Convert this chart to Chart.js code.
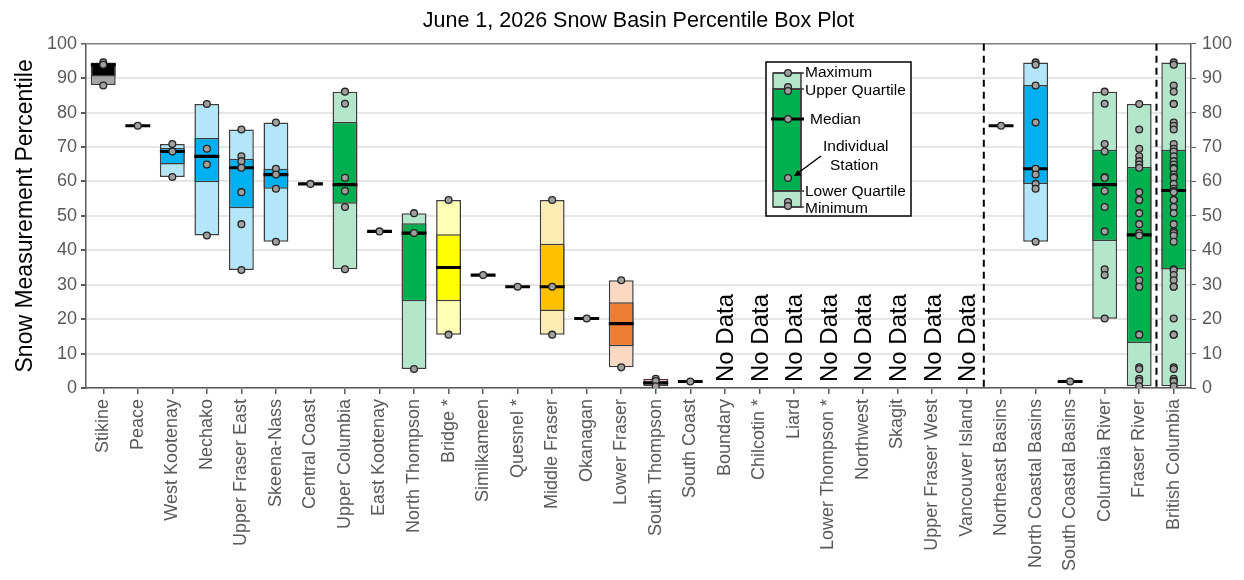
<!DOCTYPE html>
<html>
<head>
<meta charset="utf-8">
<script src="https://cdn.jsdelivr.net/npm/chart.js@4.4.1/dist/chart.umd.min.js"></script>
<style>
html, body { margin: 0; padding: 0; background: #fff; }
</style>
</head>
<body>
<canvas id="boxChart" width="1244" height="580"></canvas>
<script>
const basins = ['Stikine', 'Peace', 'West Kootenay', 'Nechako', 'Upper Fraser East', 'Skeena-Nass',
    'Central Coast', 'Upper Columbia', 'East Kootenay', 'North Thompson', 'Bridge *', 'Similkameen',
    'Quesnel *', 'Middle Fraser', 'Okanagan', 'Lower Fraser', 'South Thompson', 'South Coast',
    'Boundary', 'Chilcotin *', 'Liard', 'Lower Thompson *', 'Northwest', 'Skagit', 'Upper Fraser West',
    'Vancouver Island', 'Northeast Basins', 'North Coastal Basins', 'South Coastal Basins',
    'Columbia River', 'Fraser River', 'British Columbia'];

// box stats (null = single station or no data)
const mins    = [88.0, null, 61.3, 44.3, 34.3, 42.5, null, 34.5, null, 5.5, 15.5, null, null, 15.5, null, 6.0, 0.5, null,
                 null, null, null, null, null, null, null, null, null, 42.5, null, 20.1, 0.5, 0.5];
const q1s     = [90.5, null, 64.9, 59.8, 52.2, 57.9, null, 53.5, null, 25.2, 25.2, null, null, 22.4, null, 12.1, 1.0, null,
                 null, null, null, null, null, null, null, null, null, 59.3, null, 42.7, 13.1, 34.4];
const medians = [93.9, 76.2, 68.7, 67.3, 64.0, 62.0, 59.3, 59.1, 45.5, 45.0, 35.0, 32.8, 29.4, 29.4, 20.2, 18.7, 1.5, 1.9,
                 null, null, null, null, null, null, null, null, 76.2, 63.7, 1.9, 59.1, 44.5, 57.4];
const q3s     = [94.4, null, 69.7, 72.6, 66.6, 63.7, null, 77.3, null, 47.9, 44.7, null, null, 41.9, null, 24.9, 1.9, null,
                 null, null, null, null, null, null, null, null, null, 88.0, null, 69.2, 64.2, 69.2];
const maxs    = [94.6, null, 70.9, 82.5, 75.1, 77.1, null, 86.1, null, 50.8, 54.6, null, null, 54.6, null, 31.3, 2.7, null,
                 null, null, null, null, null, null, null, null, null, 94.6, null, 86.1, 82.5, 94.6];

const shades = ['black', null, 'blue', 'blue', 'blue', 'blue', null, 'green', null, 'green', 'yellow', null,
    null, 'amber', null, 'orange', 'red', null, null, null, null, null, null, null, null, null,
    null, 'blue', null, 'green', 'green', 'green'];

// individual stations
const stations = [
    [94.6, 93.9, 87.9],
    [76.2],
    [70.9, 68.7, 61.3],
    [82.5, 69.5, 64.9, 44.3],
    [75.1, 67.3, 65.9, 64.0, 56.9, 47.6, 34.3],
    [77.1, 63.7, 62.0, 57.9, 42.5],
    [59.3],
    [86.1, 82.6, 61.1, 57.2, 52.6, 34.5],
    [45.5],
    [50.8, 45.0, 5.5],
    [54.6, 15.5],
    [32.8],
    [29.4],
    [54.6, 29.4, 15.5],
    [20.2],
    [31.3, 6.0],
    [2.7, 2.0, 0.5],
    [1.9],
    [], [], [], [], [], [], [], [],
    [76.2],
    [94.6, 93.9, 87.9, 77.1, 63.7, 62.0, 59.3, 57.9, 42.5],
    [1.9],
    [86.1, 82.6, 70.9, 68.7, 61.3, 61.1, 57.2, 52.6, 45.5, 34.5, 32.8, 20.2],
    [82.5, 75.1, 69.5, 67.3, 65.9, 64.9, 64.0, 56.9, 54.6, 54.6, 50.8, 47.6, 45.0, 44.3, 34.3, 31.3,
     29.4, 29.4, 15.5, 15.5, 6.0, 5.5, 2.7, 2.0, 0.5],
    [94.6, 93.9, 87.9, 86.1, 82.6, 82.5, 77.1, 76.2, 75.1, 70.9, 69.5, 68.7, 67.3, 65.9, 64.9, 64.0,
     63.7, 62.0, 61.3, 61.1, 59.3, 57.9, 57.2, 56.9, 54.6, 54.6, 52.6, 50.8, 47.6, 45.5, 45.0, 44.3,
     42.5, 34.5, 34.3, 32.8, 31.3, 29.4, 29.4, 20.2, 15.5, 15.5, 6.0, 5.5, 2.7, 2.0, 1.9, 0.5]
];

const yTicks = [0, 10, 20, 30, 40, 50, 60, 70, 80, 90, 100];
const groupStarts = [26, 31];

const palette = {
    black:  ['#a6a6a6', '#000000'],
    blue:   ['#b4e6f9', '#00b0f0'],
    green:  ['#b3e6cb', '#00b050'],
    yellow: ['#ffffb4', '#ffff00'],
    amber:  ['#ffebb4', '#ffc000'],
    orange: ['#fad8c2', '#ed7d31'],
    red:    ['#f6b4b4', '#e00000']
};

Chart.defaults.font.family = "'Liberation Sans', Arial, sans-serif";
Chart.defaults.color = '#595959';

const outerData = basins.map((b, i) => mins[i] == null ? null : [mins[i], maxs[i]]);
const innerData = basins.map((b, i) => q1s[i] == null ? null : [q1s[i], q3s[i]]);
const medData = medians.map(m => m == null ? null : [m - 0.45, m + 0.45]);
const pointData = [];
stations.forEach((list, i) => {
    list.forEach(v => pointData.push({ x: basins[i], y: v }));
});

const boxStyle = {
    type: 'bar',
    grouped: false,
    barPercentage: 0.72,
    categoryPercentage: 1,
    borderColor: '#3c3c3c',
    borderWidth: 1.5,
    borderSkipped: false
};

// dashed separators, "No Data" labels and the key box
const extras = {
    id: 'extras',
    afterDatasetsDraw(chart) {
        const ctx = chart.ctx;
        const xs = chart.scales.x;
        const area = chart.chartArea;

        ctx.save();
        ctx.strokeStyle = '#000';
        ctx.lineWidth = 2;
        ctx.setLineDash([7, 5]);
        groupStarts.forEach(g => {
            const px = (xs.getPixelForValue(g - 1) + xs.getPixelForValue(g)) / 2;
            ctx.beginPath();
            ctx.moveTo(px, area.top);
            ctx.lineTo(px, area.bottom);
            ctx.stroke();
        });
        ctx.setLineDash([]);

        ctx.fillStyle = '#000';
        ctx.font = "24px 'Liberation Sans', Arial, sans-serif";
        ctx.textAlign = 'left';
        ctx.textBaseline = 'alphabetic';
        medians.forEach((m, i) => {
            if (m != null) return;
            const px = xs.getPixelForValue(i);
            ctx.save();
            ctx.translate(px + 8.5, area.bottom - 6);
            ctx.rotate(-Math.PI / 2);
            ctx.fillText('No Data', 0, 0);
            ctx.restore();
        });

        drawKey(ctx);
        ctx.restore();
    }
};

function dot(ctx, x, y) {
    ctx.beginPath();
    ctx.arc(x, y, 3.4, 0, Math.PI * 2);
    ctx.fillStyle = '#a0a0a0';
    ctx.fill();
    ctx.lineWidth = 1.3;
    ctx.strokeStyle = '#262626';
    ctx.stroke();
}

function drawKey(ctx) {
    ctx.fillStyle = '#fff';
    ctx.fillRect(766, 62, 145, 154);
    ctx.strokeStyle = '#000';
    ctx.lineWidth = 1.5;
    ctx.strokeRect(766, 62, 145, 154);

    ctx.fillStyle = '#b3e6cb';
    ctx.fillRect(773, 73, 28, 134);
    ctx.fillStyle = '#00b050';
    ctx.fillRect(773, 89, 28, 102);
    ctx.strokeStyle = '#3c3c3c';
    ctx.strokeRect(773, 73, 28, 134);
    ctx.strokeRect(773, 89, 28, 102);

    ctx.beginPath();
    [73, 89, 191, 207].forEach(y => { ctx.moveTo(773, y); ctx.lineTo(804, y); });
    ctx.stroke();

    ctx.lineWidth = 3;
    ctx.strokeStyle = '#000';
    ctx.beginPath();
    ctx.moveTo(771, 119);
    ctx.lineTo(804, 119);
    ctx.stroke();

    [73, 87, 91, 119, 178, 202, 206].forEach(y => dot(ctx, 788, y));

    // arrow
    ctx.strokeStyle = '#000';
    ctx.fillStyle = '#000';
    ctx.lineWidth = 1.5;
    ctx.beginPath();
    ctx.moveTo(821, 156);
    ctx.lineTo(798, 173);
    ctx.stroke();
    ctx.beginPath();
    ctx.moveTo(794, 176);
    ctx.lineTo(801.5, 175.5);
    ctx.lineTo(797.5, 170);
    ctx.closePath();
    ctx.fill();

    ctx.fillStyle = '#000';
    ctx.font = "15.5px 'Liberation Sans', Arial, sans-serif";
    ctx.textAlign = 'left';
    ctx.textBaseline = 'middle';
    ctx.fillText('Maximum', 805, 73);
    ctx.fillText('Upper Quartile', 805, 91);
    ctx.fillText('Median', 810, 120);
    ctx.fillText('Individual', 823, 147);
    ctx.fillText('Station', 830, 166);
    ctx.fillText('Lower Quartile', 805, 192);
    ctx.fillText('Minimum', 805, 209);
}

const ctx = document.getElementById('boxChart').getContext('2d');
const boxChart = new Chart(ctx, {
    data: {
        labels: basins,
        datasets: [
            {
                type: 'scatter',
                data: pointData,
                order: 1,
                pointRadius: 3.4,
                pointBackgroundColor: '#a0a0a0',
                pointBorderColor: '#262626',
                pointBorderWidth: 1.3,
                showLine: false
            },
            {
                ...boxStyle,
                data: medData,
                order: 2,
                backgroundColor: '#000',
                borderWidth: 0
            },
            {
                ...boxStyle,
                data: innerData,
                order: 3,
                backgroundColor: shades.map(s => s ? palette[s][1] : '#fff')
            },
            {
                ...boxStyle,
                data: outerData,
                order: 4,
                backgroundColor: shades.map(s => s ? palette[s][0] : '#fff')
            }
        ]
    },
    options: {
        responsive: false,
        animation: false,
        layout: { padding: 0 },
        plugins: {
            legend: { display: false },
            tooltip: { enabled: false },
            title: {
                display: true,
                fullSize: false,
                text: 'June 1, 2026 Snow Basin Percentile Box Plot',
                color: '#000',
                font: { size: 21.5, weight: 'normal' },
                padding: { top: 8, bottom: 10 }
            }
        },
        scales: {
            x: {
                type: 'category',
                offset: true,
                grid: {
                    drawOnChartArea: false,
                    offset: false,
                    tickLength: 6,
                    color: '#595959',
                    lineWidth: 1.5
                },
                border: { color: '#595959', width: 1.5 },
                ticks: {
                    color: '#595959',
                    font: { size: 18 },
                    minRotation: 90,
                    maxRotation: 90,
                    autoSkip: false,
                    padding: 5
                },
                afterFit: s => { s.height = 192; }
            },
            y: {
                position: 'left',
                min: 0,
                max: 100,
                afterBuildTicks: s => { s.ticks = yTicks.map(v => ({ value: v })); },
                ticks: { color: '#595959', font: { size: 18 }, padding: 4 },
                grid: {
                    color: c => c.tick && c.tick.value === 100 ? '#7f7f7f' : '#e6e6e6',
                    lineWidth: c => c.tick && c.tick.value === 100 ? 1.5 : 2,
                    tickColor: '#595959',
                    tickLength: 5
                },
                border: { color: '#595959', width: 1.5 },
                title: {
                    display: true,
                    text: 'Snow Measurement Percentile',
                    color: '#000',
                    font: { size: 23 },
                    padding: { top: 12, bottom: 0 }
                },
                afterFit: s => { s.width = 86; }
            },
            y2: {
                position: 'right',
                min: 0,
                max: 100,
                afterBuildTicks: s => { s.ticks = yTicks.map(v => ({ value: v })); },
                ticks: { color: '#595959', font: { size: 18 }, padding: 6 },
                grid: { drawOnChartArea: false, tickColor: '#595959', tickLength: 5 },
                border: { color: '#595959', width: 1.5 },
                afterFit: s => { s.width = 53; }
            }
        }
    },
    plugins: [extras]
});
</script>
</body>
</html>
